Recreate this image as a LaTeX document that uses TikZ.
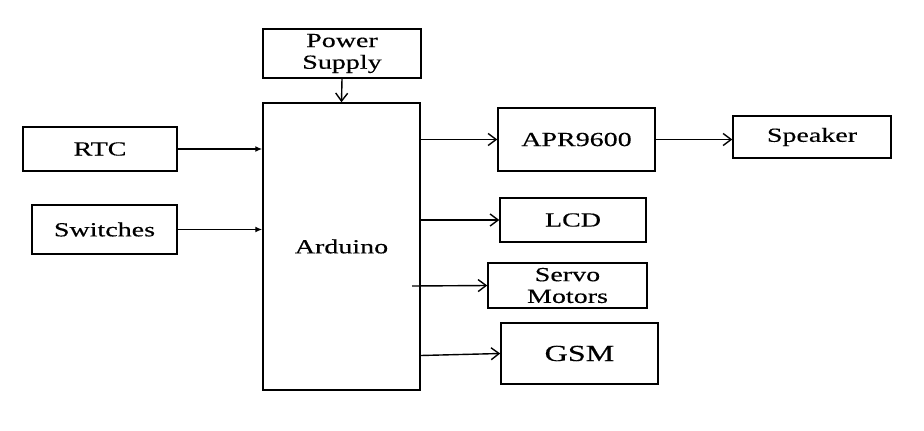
\documentclass[tikz,border=0pt]{standalone}
\usepackage{fontspec}
\setmainfont[FakeStretch=1.4,FakeBold=0.35]{Liberation Serif}
\usetikzlibrary{arrows.meta}
\begin{document}
\begin{tikzpicture}[x=1pt,y=-1pt,
  blk/.style={draw,line width=1.5pt,inner sep=0pt,align=center,font=\fontsize{20}{21.7}\selectfont},
  openarr/.style={line width=1.4pt,-{Straight Barb[length=8pt,width=12pt,line width=1.4pt]}},
  fillarr/.style={line width=1.4pt,-{Latex[length=7pt,width=6pt]}}]
\useasboundingbox (0,0) rectangle (924,431);
\node[blk,minimum width=158pt,minimum height=49pt] (ps) at (342,53.5) {Power\\Supply};
\node[blk,minimum width=157pt,minimum height=287pt] (ard) at (341.5,246.5) {Arduino};
\node[blk,minimum width=154pt,minimum height=44pt] (rtc) at (100,149) {RTC};
\node[blk,minimum width=145pt,minimum height=49pt] (sw) at (104.5,229.5) {Switches};
\node[blk,minimum width=157pt,minimum height=63pt] (apr) at (576.5,139.5) {APR9600};
\node[blk,minimum width=158pt,minimum height=42pt] (spk) at (812,137) {Speaker};
\node[blk,minimum width=146pt,minimum height=44pt] (lcd) at (573,220) {LCD};
\node[blk,minimum width=159pt,minimum height=45pt] (servo) at (567.5,285.5) {Servo\\Motors};
\node[blk,minimum width=157pt,minimum height=61pt,font=\fontsize{23}{25}\selectfont] (gsm) at (579.5,353.5) {GSM};
\coordinate (s0) at (412,286);
\draw[fillarr] (rtc.east) -- (rtc.east -| ard.west);
\draw[fillarr] (sw.east) -- (sw.east -| ard.west);
\draw[openarr] (ps.south) -- (ard.north);
\draw[openarr] (ard.east |- apr.west) -- (apr.west);
\draw[openarr] (apr.east) -- (apr.east -| spk.west);
\draw[openarr] (ard.east |- lcd.west) -- (lcd.west);
\draw[openarr] (s0) -- (servo.west);
\draw[openarr] ([yshift=-2pt]ard.east |- gsm.west) -- (gsm.west);
\end{tikzpicture}
\end{document}
